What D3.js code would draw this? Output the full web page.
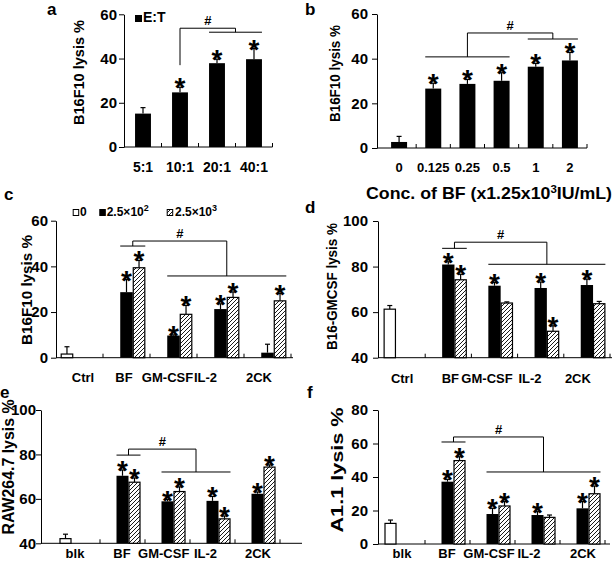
<!DOCTYPE html>
<html>
<head>
<meta charset="utf-8">
<script src="https://cdn.jsdelivr.net/npm/d3@7"></script>
<style>
  body { margin: 0; background: #fff; }
  text { font-family: 'Liberation Sans', Arial, sans-serif; font-weight: bold; fill: #000; }
  .domain, .tick line { stroke: #000; stroke-width: 1; }
</style>
</head>
<body>
<script>
// panel a : E:T ratio
const etRatios = ['5:1', '10:1', '20:1', '40:1']
const etLysis = [15.1, 24.7, 37.9, 39.7]
const etErr = [2.7, 2.3, 1.8, 4.8]
const etStar = [0, 1, 1, 1]

// panel b : BF concentration
const bfConc = ['0', '0.125', '0.25', '0.5', '1', '2']
const bfLysis = [2.7, 26.6, 28.7, 30.1, 36.4, 39.2]
const bfErr = [2.5, 2.4, 2.0, 3.6, 1.5, 3.6]
const bfStar = [0, 1, 1, 1, 1, 1]

// panels c-f : treatment groups, series = dose 0 / 2.5x10^2 / 2.5x10^3
const groupsCtrl = ['Ctrl', 'BF', 'GM-CSF', 'IL-2', '2CK']
const groupsBlk = ['blk', 'BF', 'GM-CSF', 'IL-2', '2CK']
const doseLabels = [['0', ''], ['2.5×10', '2'], ['2.5×10', '3']]

const cVals = [[1.6, null, null, null, null], [null, 28.7, 9.7, 21.3, 2.2], [null, 39.4, 19.0, 26.4, 24.9]]
const cErrs = [[3.2, 0, 0, 0, 0], [0, 5.5, 0.3, 2.3, 3.7], [0, 3.2, 3.9, 2.4, 3.2]]
const cStars = [[0, 0, 0, 0, 0], [0, 1, 1, 1, 0], [0, 1, 1, 1, 1]]

const dVals = [[61.3, null, null, null, null], [null, 80.9, 71.6, 70.6, 71.9], [null, 74.2, 64.0, 51.6, 63.7]]
const dErrs = [[1.6, 0, 0, 0, 0], [0, 1.2, 1.4, 2.6, 2.6], [0, 2.4, 0.5, 2.4, 1.0]]
const dStars = [[0, 0, 0, 0, 0], [0, 1, 1, 1, 1], [0, 1, 0, 1, 0]]

const eVals = [[42.1, null, null, null, null], [null, 70.4, 58.9, 59.1, 62.3], [null, 67.5, 63.3, 51.0, 74.3]]
const eErrs = [[2.0, 0, 0, 0, 0], [0, 2.6, 0.8, 2.0, 0.8], [0, 1.9, 2.1, 1.3, 1.0]]
const eStars = [[0, 0, 0, 0, 0], [0, 1, 1, 1, 1], [0, 1, 1, 1, 1]]

const fVals = [[12.3, null, null, null, null], [null, 37.2, 17.9, 17.3, 21.3], [null, 49.8, 22.7, 15.9, 30.0]]
const fErrs = [[2.0, 0, 0, 0, 0], [0, 1.4, 3.4, 2.0, 4.0], [0, 2.3, 2.6, 1.4, 4.6]]
const fStars = [[0, 0, 0, 0, 0], [0, 1, 1, 1, 1], [0, 1, 1, 0, 1]]

// "#" comparison brackets: [fromCat, toCat, value]
const aBracket = { left: [1, 1, 37], top: 53.7, right: [2, 3, 51.9], flatLeft: true }
const bBracket = { left: [1, 3, 40.8], top: 51.5, right: [4, 5, 48.8] }
const cBracket = { left: [1, 1, 48.9], top: 51.1, right: [2, 4, 35.8] }
const dBracket = { left: [1, 1, 88], top: 90.7, right: [2, 4, 81] }
const eBracket = { left: [1, 1, 79.7], top: 82.4, right: [2, 3, 72.1] }
const fBracket = { left: [1, 1, 60.9], top: 63.9, right: [2, 4, 43] }

const svg = d3.select('body').append('svg').attr('width', 614).attr('height', 569)

const defs = svg.append('defs')
const pat = defs.append('pattern').attr('id', 'hatch').attr('patternUnits', 'userSpaceOnUse')
  .attr('width', 4).attr('height', 4)
pat.append('rect').attr('width', 4).attr('height', 4).attr('fill', '#fff')
pat.append('path').attr('d', 'M-1,1 l2,-2 M0,4 l4,-4 M3,5 l2,-2')
  .attr('stroke', '#000').attr('stroke-width', 0.9)

const fills = { white: '#fff', black: '#000', hatch: 'url(#hatch)' }

function panel(cfg) {
  const g = svg.append('g')
  const y = d3.scaleLinear().domain(cfg.domain).range([cfg.yBot, cfg.yTop])
  const x0 = d3.scaleBand().domain(cfg.cats).range([cfg.xStart, cfg.xEnd])
    .paddingInner(cfg.pad).paddingOuter(cfg.pad / 2)
  const x1 = d3.scaleBand().domain(d3.range(cfg.series.length)).range([0, x0.bandwidth()])
  const base = y(cfg.domain[0])

  // y axis
  const ya = g.append('g').attr('transform', 'translate(' + cfg.axisX + ',0)')
    .call(d3.axisLeft(y).tickValues(cfg.yTicks).tickSize(5).tickSizeOuter(0).tickPadding(cfg.tickGap))
  ya.selectAll('.tick text').style('font-size', '15px').style('font-family', "'Liberation Sans', Arial, sans-serif")

  // x axis line + inside ticks at category boundaries
  g.append('line').attr('x1', cfg.axisX).attr('x2', cfg.axisEnd)
    .attr('y1', base).attr('y2', base).attr('stroke', '#000')
  cfg.cats.forEach((c, i) => {
    const bx = x0.range()[0] + (i + 1) * x0.step()
    g.append('line').attr('x1', bx).attr('x2', bx).attr('y1', base).attr('y2', base - 4).attr('stroke', '#000')
    g.append('text').attr('x', x0(c) + x0.bandwidth() / 2 + (cfg.labelDx ? cfg.labelDx[i] : 0))
      .attr('y', cfg.labelY).attr('text-anchor', 'middle')
      .attr('font-size', cfg.labelSize).text(c)
  })

  // bars, error bars, stars
  cfg.series.forEach((s, si) => {
    cfg.cats.forEach((c, i) => {
      const v = s.vals[i]
      if (v === null) return
      const bx = x0(c) + x1(si)
      const bw = x1.bandwidth()
      const cx = bx + bw / 2
      const top = y(v)
      const e = s.errs[i]
      if (e > 0) {
        g.append('line').attr('x1', cx).attr('x2', cx).attr('y1', top).attr('y2', y(v + e))
          .attr('stroke', '#000').attr('stroke-width', 1.2)
        g.append('line').attr('x1', cx - 2.5).attr('x2', cx + 2.5).attr('y1', y(v + e)).attr('y2', y(v + e))
          .attr('stroke', '#000').attr('stroke-width', 1.2)
      }
      const stroked = s.fill !== 'black'
      g.append('rect')
        .attr('x', stroked ? bx + 0.5 : bx).attr('y', top)
        .attr('width', stroked ? bw - 1 : bw).attr('height', base - top)
        .attr('fill', fills[s.fill])
        .attr('stroke', stroked ? '#000' : 'none').attr('stroke-width', 1.2)
      if (s.stars[i]) {
        g.append('text').attr('x', cx).attr('y', y(v + e) + 10)
          .attr('text-anchor', 'middle').attr('font-size', 28).text('*')
      }
    })
  })

  // comparison bracket
  const br = cfg.bracket
  const span = (seg) => {
    const first = cfg.spanSeries[0]
    const last = cfg.spanSeries[1]
    const l = x0(cfg.cats[seg[0]]) + x1(first)
    const r = x0(cfg.cats[seg[1]]) + x1(last) + x1.bandwidth()
    return [l, r]
  }
  const L = span(br.left)
  const R = span(br.right)
  const mL = (L[0] + L[1]) / 2
  const mR = (R[0] + R[1]) / 2
  const path = d3.path()
  if (!br.flatLeft) { path.moveTo(L[0], y(br.left[2])); path.lineTo(L[1], y(br.left[2])) }
  path.moveTo(mL, y(br.left[2])); path.lineTo(mL, y(br.top)); path.lineTo(mR, y(br.top)); path.lineTo(mR, y(br.right[2]))
  path.moveTo(R[0], y(br.right[2])); path.lineTo(R[1], y(br.right[2]))
  g.append('path').attr('d', path.toString()).attr('fill', 'none').attr('stroke', '#000').attr('stroke-width', 1)
  g.append('text').attr('x', (mL + mR) / 2).attr('y', y(br.top) - 3)
    .attr('text-anchor', 'middle').attr('font-size', 13).attr('font-weight', 'normal').text('#')

  // y title (start-anchored so textLength behaves)
  const t = cfg.title
  g.append('text').attr('transform', 'translate(' + t.x + ',' + (t.y + t.len / 2) + ') rotate(-90)')
    .attr('font-size', t.size)
    .attr('textLength', t.len).attr('lengthAdjust', 'spacingAndGlyphs').text(t.text)

  // panel letter
  g.append('text').attr('x', cfg.letter[0]).attr('y', cfg.letter[1]).attr('font-size', 17).text(cfg.letter[2])
  return g
}

const one = (vals, errs, stars) => [{ vals: vals, errs: errs, stars: stars, fill: 'black' }]
const three = (vals, errs, stars) => ['white', 'black', 'hatch'].map((f, i) =>
  ({ vals: vals[i], errs: errs[i], stars: stars[i], fill: f }))

const ga = panel({
  cats: etRatios, series: one(etLysis, etErr, etStar), domain: [0, 60], yTicks: [0, 20, 40, 60],
  yTop: 14.3, yBot: 147, axisX: 124, xStart: 124.5, xEnd: 272.5, axisEnd: 272.5, pad: 0.57,
  tickGap: 2, labelY: 172, labelSize: 14, spanSeries: [0, 0], bracket: aBracket,
  title: { text: 'B16F10 lysis %', x: 84, y: 72.5, len: 105, size: 15 }, letter: [47, 15, 'a']
})
ga.append('rect').attr('x', 135).attr('y', 15).attr('width', 7).attr('height', 7).attr('fill', '#000')
ga.append('text').attr('x', 143).attr('y', 22).attr('font-size', 14).text('E:T')

const gb = panel({
  cats: bfConc, series: one(bfLysis, bfErr, bfStar), domain: [0, 60], yTicks: [0, 20, 40, 60],
  yTop: 14, yBot: 148, axisX: 377, xStart: 382, xEnd: 587, axisEnd: 587, pad: 0.532,
  tickGap: 4, labelY: 172, labelSize: 13, spanSeries: [0, 0], bracket: bBracket,
  title: { text: 'B16F10 lysis %', x: 340, y: 73.5, len: 97, size: 14 }, letter: [305, 15, 'b']
})
const xt = gb.append('text').attr('x', 366).attr('y', 199)
  .attr('font-size', 17).attr('textLength', 246).attr('lengthAdjust', 'spacingAndGlyphs')
xt.append('tspan').text('Conc. of BF (x1.25x10')
xt.append('tspan').attr('dy', -6).attr('font-size', 11).text('3')
xt.append('tspan').attr('dy', 6).text('IU/mL)')

const gc = panel({
  cats: groupsCtrl, series: three(cVals, cErrs, cStars), domain: [0, 60], yTicks: [0, 20, 40, 60],
  yTop: 220.7, yBot: 357.7, axisX: 56, xStart: 56, xEnd: 291, axisEnd: 293, pad: 0.2,
  tickGap: 3, labelY: 382, labelSize: 13, labelDx: [3.5, -2.5, -6, -15, -8.5],
  spanSeries: [1, 2], bracket: cBracket,
  title: { text: 'B16F10 lysis %', x: 32, y: 290, len: 110, size: 15 }, letter: [4, 200, 'c']
})
// dose legend
const legX = [[72.7, 80], [99.3, 106.7], [166.7, 175]]
doseLabels.forEach((d, i) => {
  gc.append('rect').attr('x', legX[i][0] + 0.5).attr('y', 209.5).attr('width', 5.5).attr('height', 6)
    .attr('fill', fills[['white', 'black', 'hatch'][i]]).attr('stroke', '#000').attr('stroke-width', 1)
  const lt = gc.append('text').attr('x', legX[i][1]).attr('y', 216).attr('font-size', 12)
  lt.append('tspan').text(d[0])
  if (d[1]) lt.append('tspan').attr('dy', -5).attr('font-size', 9).text(d[1])
})

panel({
  cats: groupsCtrl, series: three(dVals, dErrs, dStars), domain: [40, 100], yTicks: [40, 60, 80, 100],
  yTop: 221, yBot: 357.7, axisX: 378, xStart: 379, xEnd: 610, axisEnd: 612, pad: 0.2,
  tickGap: 5, labelY: 383, labelSize: 13, labelDx: [0, 2, -7.5, -10.7, -9],
  spanSeries: [1, 2], bracket: dBracket,
  title: { text: 'B16-GMCSF lysis %', x: 337, y: 286.5, len: 127, size: 14 }, letter: [305, 213, 'd']
})

panel({
  cats: groupsBlk, series: three(eVals, eErrs, eStars), domain: [40, 100], yTicks: [40, 60, 80, 100],
  yTop: 410, yBot: 543.3, axisX: 41, xStart: 55, xEnd: 280, axisEnd: 302, pad: 0.2,
  tickGap: 0, labelY: 558, labelSize: 13, labelDx: [-2.5, -0.5, -3.8, -7, 0.5],
  spanSeries: [1, 2], bracket: eBracket,
  title: { text: 'RAW264.7 lysis %', x: 14, y: 467, len: 135, size: 16 }, letter: [0, 398, 'e']
})

panel({
  cats: groupsBlk, series: three(fVals, fErrs, fStars), domain: [0, 80], yTicks: [0, 20, 40, 60, 80],
  yTop: 410, yBot: 544, axisX: 378, xStart: 380, xEnd: 605, axisEnd: 610, pad: 0.2,
  tickGap: 5, labelY: 558, labelSize: 13, labelDx: [-0.5, -0.5, -3.5, -8.5, 0.5],
  spanSeries: [1, 2], bracket: fBracket,
  title: { text: 'A1.1 lysis %', x: 343, y: 470, len: 125, size: 16 }, letter: [307, 398, 'f']
})
</script>
</body>
</html>
